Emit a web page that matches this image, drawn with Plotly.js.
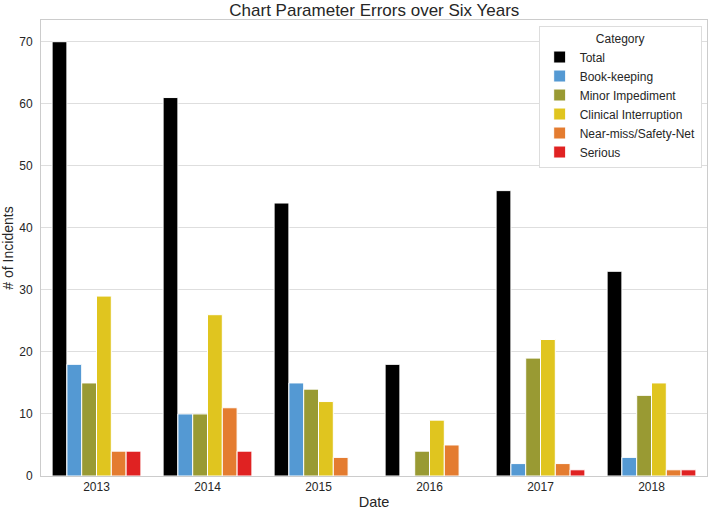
<!DOCTYPE html>
<html>
<head>
<meta charset="utf-8">
<script src="https://cdn.plot.ly/plotly-3.0.1.min.js"></script>
<style>
  html, body { margin: 0; padding: 0; background: #fff; }
  #chart { width: 709px; height: 510px; }
</style>
</head>
<body>
<div id="chart"></div>
<script>
// Years on the x axis
const years = ['2013', '2014', '2015', '2016', '2017', '2018'];

// Incident counts per category, one value per year
const total = [70, 61, 44, 18, 46, 33];
const bookKeeping = [18, 10, 15, 0, 2, 3];
const minorImpediment = [15, 10, 14, 4, 19, 13];
const clinicalInterruption = [29, 26, 12, 9, 22, 15];
const nearMiss = [4, 11, 3, 5, 2, 1];
const serious = [4, 4, 0, 0, 1, 1];

const categories = ['Total', 'Book-keeping', 'Minor Impediment', 'Clinical Interruption', 'Near-miss/Safety-Net', 'Serious'];
const seriesValues = [total, bookKeeping, minorImpediment, clinicalInterruption, nearMiss, serious];

// Fixed colours per category
const colors = {
  'Total': '#000000',
  'Book-keeping': '#5499d3',
  'Minor Impediment': '#999a33',
  'Clinical Interruption': '#e0c51f',
  'Near-miss/Safety-Net': '#e47c30',
  'Serious': '#e02222'
};

const font = 'Liberation Sans, Arial, sans-serif';

const data = categories.map((name, i) => ({
  type: 'bar',
  name: name,
  x: years,
  y: seriesValues[i],
  marker: { color: colors[name], line: { color: '#ffffff', width: 1 } },
  hoverinfo: 'x+y+name'
}));

const layout = {
  width: 709,
  height: 510,
  paper_bgcolor: '#ffffff',
  plot_bgcolor: '#ffffff',
  font: { family: font, color: '#262626', size: 12 },
  margin: { l: 41, r: 2, t: 20, b: 34 },
  barmode: 'group',
  bargap: 0.2,
  bargroupgap: 0,
  title: {
    text: 'Chart Parameter Errors over Six Years',
    font: { size: 17, family: font, color: '#262626' },
    x: 0.528, xanchor: 'center',
    y: 0.981, yanchor: 'middle', yref: 'container'
  },
  xaxis: {
    type: 'category',
    range: [-0.5, 5.5],
    title: { text: 'Date', font: { size: 14.5 }, standoff: 6 },
    showgrid: false,
    showline: true, mirror: true, linecolor: '#cccccc', linewidth: 1,
    ticks: '', tickfont: { size: 12 },
    zeroline: false
  },
  yaxis: {
    range: [0, 73.5],
    dtick: 10,
    title: { text: '# of Incidents', font: { size: 14 }, standoff: 4 },
    showgrid: true, gridcolor: '#dedede', gridwidth: 1,
    showline: true, mirror: true, linecolor: '#cccccc', linewidth: 1,
    ticks: '', tickfont: { size: 12 },
    ticklabelstandoff: 5,
    zeroline: false
  },
  legend: {
    title: { text: 'Category', side: 'top center', font: { size: 12 } },
    x: 0.992, xanchor: 'right',
    y: 0.987, yanchor: 'top',
    bgcolor: '#ffffff',
    bordercolor: '#dddddd', borderwidth: 1,
    font: { size: 12 },
    tracegroupgap: 0,
    itemwidth: 30
  },
  showlegend: true
};

Plotly.newPlot('chart', data, layout, { displayModeBar: false, staticPlot: true });
</script>
</body>
</html>
